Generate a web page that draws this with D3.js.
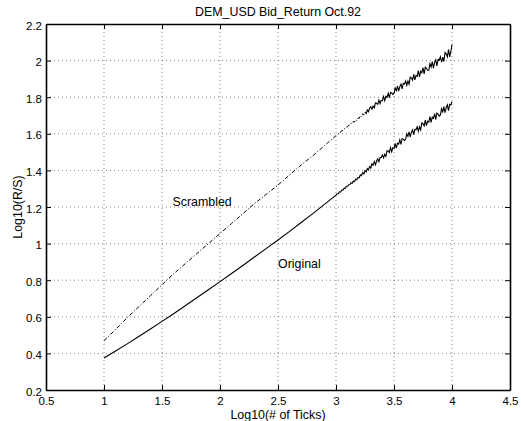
<!DOCTYPE html>
<html><head><meta charset="utf-8">
<script src="https://cdn.jsdelivr.net/npm/d3@7"></script>
<style>html,body{margin:0;padding:0;background:#fff;}svg{display:block;font-family:"Liberation Sans",Arial,Helvetica,sans-serif;}</style>
</head><body>
<script>
const title = "DEM_USD Bid_Return Oct.92";
const xLabel = "Log10(# of Ticks)";
const yLabel = "Log10(R/S)";
const xTicks = [0.5,1,1.5,2,2.5,3,3.5,4,4.5];
const yTicks = [0.2,0.4,0.6,0.8,1,1.2,1.4,1.6,1.8,2,2.2];
const xTickLabels = ["0.5","1","1.5","2","2.5","3","3.5","4","4.5"];
const yTickLabels = ["0.2","0.4","0.6","0.8","1","1.2","1.4","1.6","1.8","2","2.2"];

// log10(number of ticks)
const logN = [1.00,1.10,1.20,1.30,1.40,1.50,1.60,1.70,1.80,1.90,2.00,2.10,2.20,2.30,2.40,2.50,2.60,2.70,2.80,2.90,
3.00,3.01,3.02,3.03,3.04,3.05,3.06,3.07,3.08,3.09,
3.10,3.11,3.12,3.13,3.14,3.15,3.16,3.17,3.18,3.19,
3.20,3.21,3.22,3.23,3.24,3.25,3.26,3.27,3.28,3.29,
3.30,3.31,3.32,3.33,3.34,3.35,3.36,3.37,3.38,3.39,
3.40,3.41,3.42,3.43,3.44,3.45,3.46,3.47,3.48,3.49,
3.50,3.51,3.52,3.53,3.54,3.55,3.56,3.57,3.58,3.59,
3.60,3.61,3.62,3.63,3.64,3.65,3.66,3.67,3.68,3.69,
3.70,3.71,3.72,3.73,3.74,3.75,3.76,3.77,3.78,3.79,
3.80,3.81,3.82,3.83,3.84,3.85,3.86,3.87,3.88,3.89,
3.90,3.91,3.92,3.93,3.94,3.95,3.96,3.97,3.98,3.99,4.00];

const original = [0.375,0.413,0.452,0.492,0.533,0.575,0.617,0.660,0.704,0.748,0.792,0.837,0.882,0.928,0.974,1.020,1.067,1.115,1.164,1.214,
1.265,1.272,1.273,1.283,1.282,1.293,1.292,1.303,1.302,1.313,
1.313,1.322,1.323,1.333,1.330,1.342,1.338,1.353,1.349,1.362,
1.360,1.376,1.371,1.388,1.381,1.399,1.392,1.410,1.403,1.421,
1.413,1.436,1.429,1.449,1.431,1.451,1.463,1.447,1.470,1.471,
1.485,1.469,1.488,1.476,1.508,1.506,1.498,1.524,1.502,1.523,
1.520,1.547,1.522,1.548,1.544,1.567,1.542,1.573,1.571,1.563,
1.570,1.600,1.586,1.610,1.583,1.608,1.621,1.595,1.625,1.622,
1.638,1.615,1.638,1.621,1.659,1.655,1.643,1.675,1.645,1.669,
1.664,1.694,1.662,1.691,1.684,1.710,1.678,1.713,1.708,1.697,
1.703,1.738,1.720,1.749,1.715,1.744,1.758,1.727,1.761,1.758,1.775];

const scrambled = [0.470,0.530,0.595,0.655,0.715,0.775,0.835,0.890,0.945,1.000,1.055,1.110,1.165,1.220,1.270,1.320,1.375,1.430,1.480,1.535,
1.590,1.597,1.599,1.607,1.608,1.617,1.618,1.627,1.628,1.637,
1.638,1.647,1.648,1.658,1.656,1.668,1.664,1.677,1.672,1.687,
1.684,1.700,1.693,1.710,1.703,1.719,1.711,1.730,1.721,1.741,
1.748,1.735,1.751,1.742,1.769,1.767,1.761,1.784,1.765,1.783,
1.781,1.804,1.781,1.805,1.800,1.821,1.797,1.826,1.823,1.815,
1.820,1.850,1.836,1.861,1.833,1.858,1.871,1.845,1.875,1.872,
1.888,1.865,1.888,1.871,1.909,1.905,1.893,1.925,1.895,1.919,
1.914,1.945,1.911,1.942,1.934,1.961,1.927,1.964,1.958,1.947,
1.947,1.983,1.965,1.995,1.959,1.989,2.004,1.971,2.007,2.003,
2.021,1.991,2.019,1.995,2.044,2.037,2.020,2.060,2.020,2.050,2.088];

const labelScrambled = {text:"Scrambled", x:1.59, y:1.205};
const labelOriginal = {text:"Original", x:2.5, y:0.865};

const W = 521, H = 421;
const L = 46, R = 510, T = 24, B = 390;
const x = d3.scaleLinear().domain([0.5,4.5]).range([L,R]);
const y = d3.scaleLinear().domain([0.2,2.2]).range([B,T]);

const svg = d3.select("body").append("svg").attr("width",W).attr("height",H);
svg.append("rect").attr("width",W).attr("height",H).attr("fill","#fff");

// grid
const grid = svg.append("g").attr("stroke","#000").attr("stroke-width",0.6).attr("stroke-dasharray","1,3").attr("opacity",0.8);
xTicks.slice(1,-1).forEach(v=>grid.append("line").attr("x1",x(v)).attr("x2",x(v)).attr("y1",T).attr("y2",B));
yTicks.slice(1,-1).forEach(v=>grid.append("line").attr("y1",y(v)).attr("y2",y(v)).attr("x1",L).attr("x2",R));

// axes with inward ticks
const fmtX = (d,i)=>xTickLabels[i];
const fmtY = (d,i)=>yTickLabels[i];
const axB = svg.append("g").attr("transform",`translate(0,${B})`)
  .call(d3.axisBottom(x).tickValues(xTicks).tickFormat(fmtX).tickSizeInner(-5).tickSizeOuter(0).tickPadding(6.5));
const axT = svg.append("g").attr("transform",`translate(0,${T})`)
  .call(d3.axisTop(x).tickValues(xTicks).tickFormat("").tickSizeInner(-5).tickSizeOuter(0));
const axL = svg.append("g").attr("transform",`translate(${L},0)`)
  .call(d3.axisLeft(y).tickValues(yTicks).tickFormat(fmtY).tickSizeInner(-5).tickSizeOuter(0).tickPadding(4));
const axR = svg.append("g").attr("transform",`translate(${R},0)`)
  .call(d3.axisRight(y).tickValues(yTicks).tickFormat("").tickSizeInner(-5).tickSizeOuter(0));
[axB,axT,axL,axR].forEach(a=>{
  a.select(".domain").attr("stroke","#000").attr("stroke-width",1.6);
  a.selectAll(".tick line").attr("stroke","#000").attr("stroke-width",1);
  a.selectAll("text").attr("fill","#000").attr("font-size","11.5px").attr("font-family","'Liberation Sans',Arial,sans-serif");
});
axL.selectAll("text").attr("dy","0.45em");

// lines
const pts = (arr)=>arr.map((v,i)=>[logN[i],v]);
const line = d3.line().x(d=>x(d[0])).y(d=>y(d[1]));
svg.append("path").datum(pts(original)).attr("d",line).attr("fill","none").attr("stroke","#000").attr("stroke-width",1.1);
const sPts = pts(scrambled);
svg.append("path").datum(sPts.filter(d=>d[0]<=3.25)).attr("d",line).attr("fill","none").attr("stroke","#000").attr("stroke-width",1).attr("stroke-dasharray","4,2,1,2");
svg.append("path").datum(sPts.filter(d=>d[0]>=3.25)).attr("d",line).attr("fill","none").attr("stroke","#000").attr("stroke-width",1.1);

// annotations
[labelScrambled,labelOriginal].forEach(l=>svg.append("text").attr("x",x(l.x)).attr("y",y(l.y)).attr("font-size","12.4px").attr("fill","#000").text(l.text));

// title & labels
svg.append("text").attr("x",(L+R)/2).attr("y",16).attr("text-anchor","middle").attr("font-size","12.4px").attr("fill","#000").text(title);
svg.append("text").attr("x",(L+R)/2).attr("y",419).attr("text-anchor","middle").attr("font-size","12.4px").attr("fill","#000").text(xLabel);
svg.append("text").attr("transform",`translate(22,${(T+B)/2}) rotate(-90)`).attr("text-anchor","middle").attr("font-size","12.4px").attr("fill","#000").text(yLabel);
</script>
</body></html>
